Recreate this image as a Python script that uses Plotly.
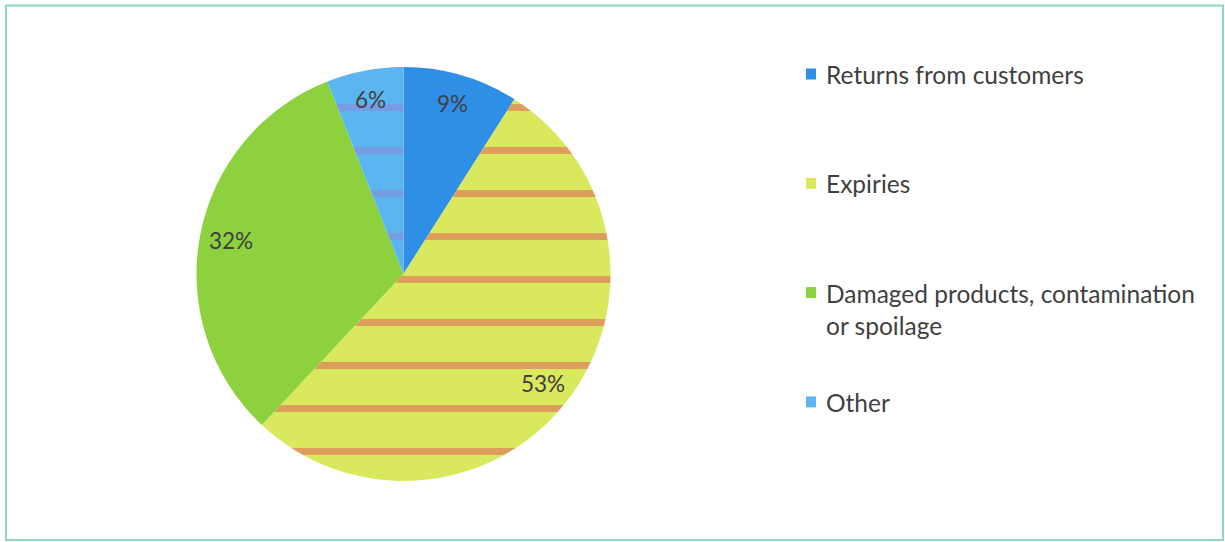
import math
import plotly.graph_objects as go

categories = ["Returns from customers", "Expiries",
              "Damaged products, contamination<br>or spoilage", "Other"]
values = [9, 53, 32, 6]
colors = ["#2F8FE6", "#D9E85C", "#8ED13F", "#5BB6F0"]
pattern_fg = ["#2F8FE6", "#E0605A", "#8ED13F", "#8C86DA"]

W, H = 1225, 542
cx, cy, R = 403.5, 274.0, 207.0

fig = go.Figure()
fig.add_trace(go.Pie(
    labels=categories,
    values=values,
    sort=False,
    direction="clockwise",
    rotation=0,
    textinfo="none",
    hoverinfo="label+percent",
    showlegend=False,
    marker=dict(
        colors=colors,
        line=dict(width=0),
        pattern=dict(
            shape=["", "-", "", "-"],
            bgcolor=colors,
            fgcolor=pattern_fg,
            fgopacity=0.55,
            size=43,
            solidity=0.16,
        ),
    ),
    domain=dict(x=[(cx - R) / W, (cx + R) / W], y=[1 - (cy + R) / H, 1 - (cy - R) / H]),
))

annotations = []
shapes = []
# percentage labels at ~0.85R along each slice's mid-angle
total = sum(values)
cum = 0
for v in values:
    mid = (cum + v / 2) / total * 2 * math.pi
    cum += v
    px = cx + 0.85 * R * math.sin(mid)
    py = cy - 0.86 * R * math.cos(mid)
    annotations.append(dict(
        x=px / W, y=1 - py / H, xref="paper", yref="paper",
        text=f"{round(v / total * 100)}%", showarrow=False,
        font=dict(family="Lato, 'Open Sans', sans-serif", size=22.5, color="#3F3F3F"),
        xanchor="center", yanchor="middle",
    ))

# custom legend
leg_x0 = 806
leg_y0 = 74
leg_step = 109.3
for i, (cat, col) in enumerate(zip(categories, colors)):
    yc = leg_y0 + i * leg_step
    shapes.append(dict(type="rect", xref="paper", yref="paper",
                       x0=leg_x0 / W, x1=(leg_x0 + 10) / W,
                       y0=1 - (yc + 5.5) / H, y1=1 - (yc - 5.5) / H,
                       fillcolor=col, line=dict(width=0)))
    annotations.append(dict(
        x=(leg_x0 + 18) / W, y=1 - (yc - 16) / H, xref="paper", yref="paper",
        text=cat, showarrow=False, align="left",
        font=dict(family="Lato, 'Open Sans', sans-serif", size=24.5, color="#3F3F3F"),
        xanchor="left", yanchor="top",
    ))

# chart border
shapes.append(dict(type="rect", xref="paper", yref="paper",
                   x0=6 / W, x1=1223 / W, y0=1 - 540 / H, y1=1 - 5.5 / H,
                   line=dict(color="#8ED6C6", width=2), fillcolor="rgba(0,0,0,0)"))

fig.update_layout(
    width=W, height=H,
    margin=dict(l=0, r=0, t=0, b=0),
    paper_bgcolor="white",
    plot_bgcolor="white",
    annotations=annotations,
    shapes=shapes,
)

fig.write_html("out.html", config={"displayModeBar": False},
               post_script="document.body.style.margin='0';")
